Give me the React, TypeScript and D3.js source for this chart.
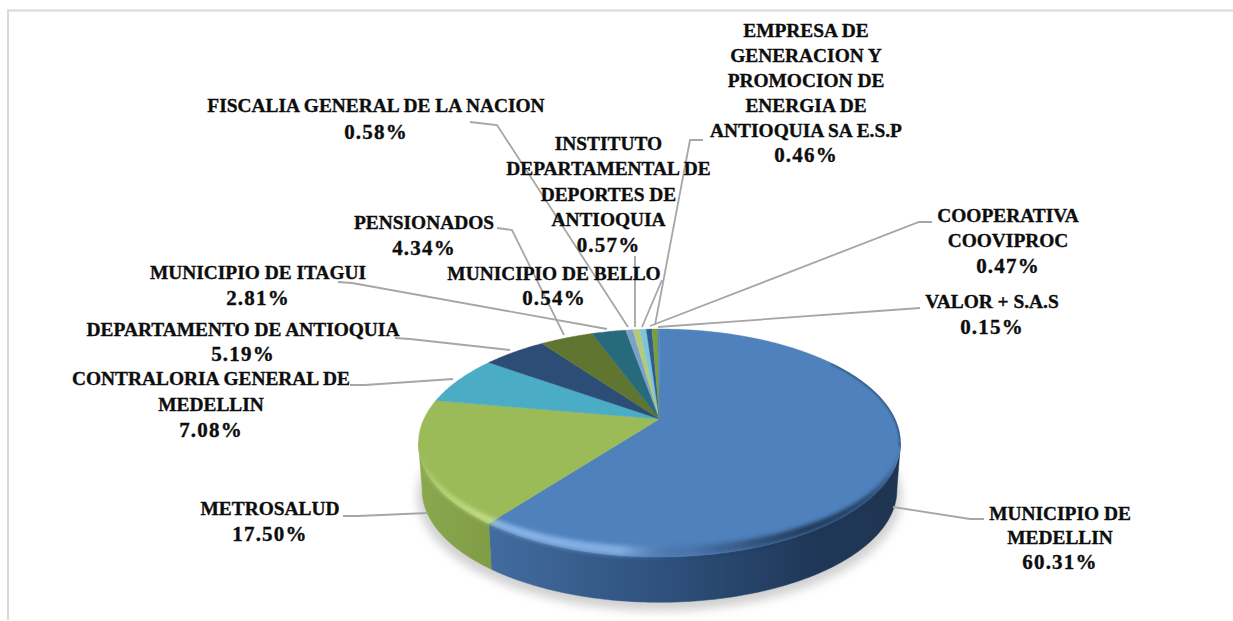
import React from "react";
import * as d3 from "d3";

const names = ["MUNICIPIO DE MEDELLIN","METROSALUD","CONTRALORIA GENERAL DE MEDELLIN","DEPARTAMENTO DE ANTIOQUIA","PENSIONADOS","MUNICIPIO DE ITAGUI","FISCALIA GENERAL DE LA NACION","INSTITUTO DEPARTAMENTAL DE DEPORTES DE ANTIOQUIA","MUNICIPIO DE BELLO","EMPRESA DE GENERACION Y PROMOCION DE ENERGIA DE ANTIOQUIA SA E.S.P","COOPERATIVA COOVIPROC","VALOR + S.A.S"];
const values = [60.31,17.5,7.08,5.19,4.34,2.81,0.58,0.57,0.54,0.46,0.47,0.15];
const colors = ["#4f81bd","#9bbb59","#4bacc6","#2c4d75","#5f7530","#276a7c","#7d9fcd","#b1cb7a","#7cc4d8","#2f5a92","#7a9e3a","#4f81bd"];
const wallColors: Record<number,string> = {0:"url(#wallBlue)",1:"url(#wallGreen)"};

// label line breaks
const labelLines = [
  ["MUNICIPIO DE","MEDELLIN"],["METROSALUD"],["CONTRALORIA GENERAL DE","MEDELLIN"],["DEPARTAMENTO DE ANTIOQUIA"],["PENSIONADOS"],["MUNICIPIO DE ITAGUI"],
  ["FISCALIA GENERAL DE LA NACION"],["INSTITUTO","DEPARTAMENTAL DE","DEPORTES DE","ANTIOQUIA"],["MUNICIPIO DE BELLO"],
  ["EMPRESA DE","GENERACION Y","PROMOCION DE","ENERGIA DE","ANTIOQUIA SA E.S.P"],["COOPERATIVA","COOVIPROC"],["VALOR + S.A.S"],
];
// layout: label centre x, first-line centre y, line step; leader polyline
const labelLayout: {x:number;y:number;dy:number;leader:[number,number][]}[] = [
  {x:1060,y:513,dy:24.7,leader:[[984,519],[970,519],[893,507]]},
  {x:270,y:508,dy:26,leader:[[343,516],[358,516],[428,513]]},
  {x:211,y:378,dy:26,leader:[[350,385],[365,385],[453,379]]},
  {x:243,y:329,dy:25,leader:[[395,338],[410,339],[510,350]]},
  {x:424,y:222,dy:26,leader:[[497,228],[512,230],[564,335]]},
  {x:258,y:272,dy:26,leader:[[338,282],[352,283],[607,329]]},
  {x:376,y:105,dy:27,leader:[[470,122],[497,125],[628,327]]},
  {x:608.5,y:143,dy:25.5,leader:[[635,256],[635,327]]},
  {x:554,y:273,dy:25,leader:[[662,280],[642,327]]},
  {x:806,y:30,dy:25,leader:[[703,140],[690,140],[655,325]]},
  {x:1008,y:215,dy:25.5,leader:[[932,222],[919,222],[650,326]]},
  {x:992,y:301,dy:26,leader:[[920,308],[658,327]]},
];

const FONT = "'Liberation Serif', serif";
const cx = 659.5, cy = 443, rx = 241, ry = 114, depth = 47, skew = -0.21;
const scaleBottom = 0.985;

// perspective: maps a pie angle to the rim of the tilted ellipse; the pie centre lands above the ellipse centre
function rim(a: number): [number, number] {
  const u = Math.sin(a), v = -Math.cos(a);
  const d = 1 + skew * v;
  return [cx + rx * (u * Math.sqrt(1 - skew * skew)) / d, cy + ry * (v + skew) / d];
}
const apex: [number, number] = [cx, cy + ry * skew];
const line = d3.line();
const sampled = (a0: number, a1: number) => {
  const n = Math.max(2, Math.ceil((a1 - a0) / 0.01));
  return d3.range(n + 1).map(i => a0 + (a1 - a0) * i / n);
};
const rad = (deg: number) => deg * Math.PI / 180;

export default function App() {
  const arcs = d3.pie<number>().sort(null).value(d => d)(values);
  const rimFront = sampled(0, Math.PI * 2).map(rim).filter(p => p[1] >= cy).sort((a, b) => a[0] - b[0]) as [number, number][];
  const fullRim = line(sampled(0, Math.PI * 2).map(rim)) + "Z";
  const bot = (p: [number, number]): [number, number] => [cx + (p[0] - cx) * scaleBottom, cy + (p[1] - cy) * scaleBottom + depth];
  const crescent = [...rimFront, ...rimFront.slice().reverse().map(p => [p[0], cy + (p[1] - cy) * 0.91] as [number, number])];
  const wallShape = [...rimFront, ...rimFront.slice().reverse().map(bot)] as [number, number][];
  const upperRight = sampled(rad(55), rad(104)).map(rim) as [number, number][];
  return (
    <svg width={1233} height={621} style={{ position: "absolute", left: 0, top: 0, display: "block", background: "#fff" }}>
      <defs>
        <linearGradient id="wallBlue" gradientUnits="userSpaceOnUse" x1={490} x2={900} y1={0} y2={0}>
          <stop offset="0" stopColor="#426c9f" /><stop offset="0.45" stopColor="#2d4f7a" /><stop offset="0.8" stopColor="#1f3757" /><stop offset="1" stopColor="#1f3552" />
        </linearGradient>
        <linearGradient id="wallGreen" gradientUnits="userSpaceOnUse" x1={419} x2={495} y1={0} y2={0}>
          <stop offset="0" stopColor="#8aa84e" /><stop offset="1" stopColor="#7f9c45" />
        </linearGradient>
        <linearGradient id="bevel" gradientUnits="userSpaceOnUse" x1={419} x2={900} y1={0} y2={0}>
          <stop offset="0" stopColor="#e8ffb0" stopOpacity="0.5" />
          <stop offset="0.15" stopColor="#d8f0a0" stopOpacity="0.65" />
          <stop offset="0.17" stopColor="#a8d0ff" stopOpacity="0.65" />
          <stop offset="0.42" stopColor="#a8d0ff" stopOpacity="0.55" />
          <stop offset="0.56" stopColor="#1f3552" stopOpacity="0.15" />
          <stop offset="0.8" stopColor="#1f3552" stopOpacity="0.95" />
          <stop offset="1" stopColor="#1f3552" stopOpacity="1" />
        </linearGradient>
        <filter id="blur2" x="-5%" y="-40%" width="110%" height="180%"><feGaussianBlur stdDeviation="2" /></filter>
        <filter id="blur1" x="-20%" y="-20%" width="140%" height="140%"><feGaussianBlur stdDeviation="0.8" /></filter>
        <filter id="blur6" x="-20%" y="-30%" width="140%" height="160%"><feGaussianBlur stdDeviation="5" /></filter>
        <clipPath id="pieClip"><path d={fullRim} /><path d={line(wallShape) + "Z"} /></clipPath>
      </defs>

      <path d={`M8,620V10.5H1233`} fill="none" stroke="#d9d9d9" strokeWidth={2} />

      {/* shadow */}
      <ellipse cx={cx} cy={cy + depth + 6} rx={rx + 1} ry={ry + 1} fill="#bdbdbd" opacity={0.7} filter="url(#blur6)" />

      {/* side wall */}
      {arcs.map((d, i) => {
        const pts = sampled(d.startAngle, d.endAngle).map(rim).filter(p => p[1] >= cy - 1);
        if (pts.length < 2) return null;
        const poly = [...pts, ...pts.slice().reverse().map(bot)] as [number, number][];
        return <path key={i} d={line(poly) + "Z"} fill={wallColors[i] ?? colors[i]} stroke={wallColors[i] ?? colors[i]} strokeWidth={0.5} />;
      })}

      {/* top face */}
      {arcs.map((d, i) => {
        const poly = [apex, ...sampled(d.startAngle, d.endAngle).map(rim)] as [number, number][];
        return <path key={i} d={line(poly) + "Z"} fill={colors[i]} stroke={colors[i]} strokeWidth={0.4} />;
      })}

      {/* bevel */}
      <g clipPath="url(#pieClip)">
        <path d={line(crescent) + "Z"} fill="url(#bevel)" filter="url(#blur2)" />
        <path d={line(upperRight)!} fill="none" stroke="#1f3552" strokeOpacity={0.8} strokeWidth={2} filter="url(#blur1)" />
      </g>

      {/* leaders */}
      {labelLayout.map((l, i) => (
        <path key={i} d={line(l.leader)!} fill="none" stroke="#a6a6a6" strokeWidth={1.8} />
      ))}

      {/* labels */}
      <g fontFamily={FONT} fontWeight="bold" fontSize={19.4} fill="#0d0d0d" stroke="#0d0d0d" strokeWidth={0.35} textAnchor="middle">
        {labelLayout.map((l, i) => {
          const lines = labelLines[i];
          return (
            <text key={i} data-name={names[i]}>
              {lines.map((t, j) => <tspan key={j} x={l.x} y={l.y + j * l.dy + 6.5}>{t}</tspan>)}
              <tspan x={l.x} y={l.y + lines.length * l.dy + 6.5} fontSize={21} letterSpacing={1.2}>{values[i].toFixed(2) + "%"}</tspan>
            </text>
          );
        })}
      </g>
    </svg>
  );
}
